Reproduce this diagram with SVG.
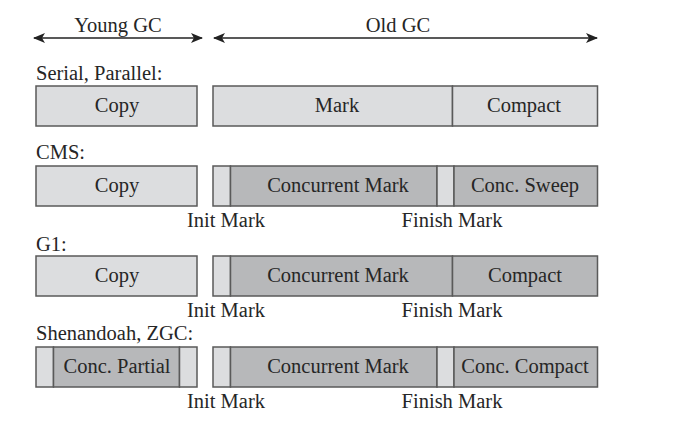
<svg xmlns="http://www.w3.org/2000/svg" width="681" height="428" viewBox="0 0 681 428">
<defs>
<style>
.c{text-anchor:middle}
.l{fill:#dcdddf;stroke:#5a5a5a;stroke-width:1.5}
.d{fill:#b7b8ba;stroke:#5a5a5a;stroke-width:1.5}
.ax{stroke:#222;stroke-width:1.3;fill:none}
</style>
<marker id="ah" viewBox="0 0 12 10" refX="11" refY="5" markerWidth="12" markerHeight="10" markerUnits="userSpaceOnUse" orient="auto-start-reverse">
<path d="M0,0 L12,5 L0,10 L3,5 Z" fill="#222"/>
</marker>
</defs>
<rect width="681" height="428" fill="#fff"/>
<g font-family="Liberation Serif, Times New Roman, serif" font-size="20.5" fill="#262626">
<g id="connectors">
<line class="ax" x1="34" y1="38" x2="202" y2="38" marker-start="url(#ah)" marker-end="url(#ah)"/>
<line class="ax" x1="214" y1="38" x2="597" y2="38" marker-start="url(#ah)" marker-end="url(#ah)"/>
</g>
<g id="headers">
<text class="c" x="118" y="32">Young GC</text>
<text class="c" x="398" y="32">Old GC</text>
</g>
<g id="serial">
<text x="36" y="80">Serial, Parallel:</text>
<rect class="l" x="36" y="86" width="161" height="40"/>
<text class="c" x="117" y="112">Copy</text>
<rect class="l" x="213" y="86" width="239.5" height="40"/>
<text class="c" x="337" y="112">Mark</text>
<rect class="l" x="452.5" y="86" width="145" height="40"/>
<text class="c" x="524" y="112">Compact</text>
</g>
<g id="cms">
<text x="36" y="159">CMS:</text>
<rect class="l" x="36" y="166" width="161" height="40"/>
<text class="c" x="117" y="192">Copy</text>
<rect class="l" x="213" y="166" width="17.5" height="40"/>
<rect class="d" x="230.5" y="166" width="206.5" height="40"/>
<text class="c" x="338" y="192">Concurrent Mark</text>
<rect class="l" x="437" y="166" width="17" height="40"/>
<rect class="d" x="454" y="166" width="143.5" height="40"/>
<text class="c" x="525" y="192">Conc. Sweep</text>
<text class="c" x="226" y="227">Init Mark</text>
<text class="c" x="452" y="227">Finish Mark</text>
</g>
<g id="g1">
<text x="36" y="251">G1:</text>
<rect class="l" x="36" y="256" width="161" height="40"/>
<text class="c" x="117" y="282">Copy</text>
<rect class="l" x="213" y="256" width="17.5" height="40"/>
<rect class="d" x="230.5" y="256" width="222" height="40"/>
<text class="c" x="338" y="282">Concurrent Mark</text>
<rect class="d" x="452.5" y="256" width="145" height="40"/>
<text class="c" x="525" y="282">Compact</text>
<text class="c" x="226" y="317">Init Mark</text>
<text class="c" x="452" y="317">Finish Mark</text>
</g>
<g id="shenandoah">
<text x="36" y="340">Shenandoah, ZGC:</text>
<rect class="l" x="36" y="347" width="17.5" height="40"/>
<rect class="d" x="53.5" y="347" width="126" height="40"/>
<text class="c" x="117" y="373">Conc. Partial</text>
<rect class="l" x="179.5" y="347" width="17.5" height="40"/>
<rect class="l" x="213" y="347" width="17.5" height="40"/>
<rect class="d" x="230.5" y="347" width="206.5" height="40"/>
<text class="c" x="338" y="373">Concurrent Mark</text>
<rect class="l" x="437" y="347" width="17" height="40"/>
<rect class="d" x="454" y="347" width="143.5" height="40"/>
<text class="c" x="525" y="373">Conc. Compact</text>
<text class="c" x="226" y="408">Init Mark</text>
<text class="c" x="452" y="408">Finish Mark</text>
</g>
</g>
</svg>
